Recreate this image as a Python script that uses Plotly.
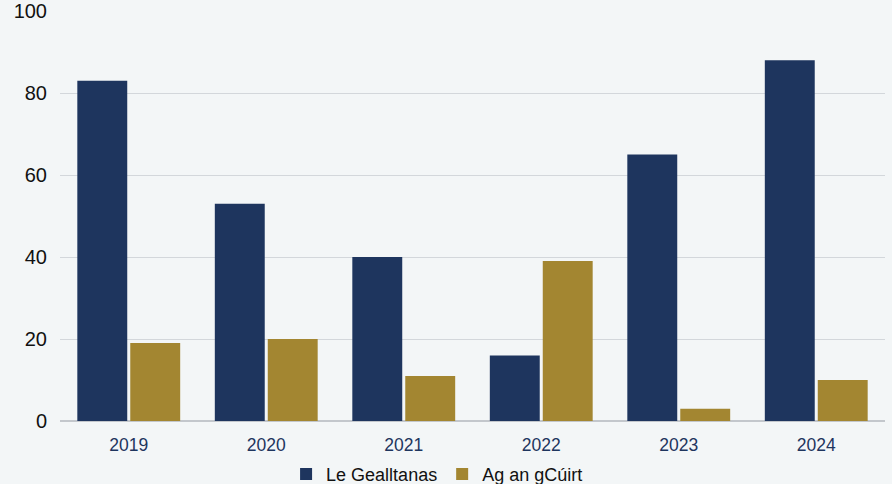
import plotly.graph_objects as go

years = ["2019", "2020", "2021", "2022", "2023", "2024"]
le_gealltanas = [83, 53, 40, 16, 65, 88]
ag_an_gcuirt = [19, 20, 11, 39, 3, 10]

fig = go.Figure()
fig.add_trace(go.Bar(x=years, y=le_gealltanas, name="Le Gealltanas",
                     marker=dict(color="#1e355e", line_width=0)))
fig.add_trace(go.Bar(x=years, y=ag_an_gcuirt, name="Ag an gCúirt",
                     marker=dict(color="#a38631", line_width=0)))

fig.update_layout(
    width=892, height=484,
    barmode="group", bargap=0.23, bargroupgap=0.057,
    paper_bgcolor="#f3f6f7", plot_bgcolor="#f3f6f7",
    font=dict(family="Helvetica Neue, Liberation Sans, Arial", color="#111111"),
    margin=dict(l=60, r=7, t=11, b=63, autoexpand=False),
    xaxis=dict(tickfont=dict(size=17.5, color="#1e355e"), showgrid=False, ticks="",
               ticklabelstandoff=11),
    yaxis=dict(range=[0, 100], dtick=20, tickfont=dict(size=20, color="#111111"),
               gridcolor="#d3d7db", zeroline=True, zerolinecolor="#c3c7cc", zerolinewidth=1.5,
               ticklabelstandoff=12),
    legend=dict(orientation="h", xref="container", x=0.49, xanchor="center",
                y=-0.085, yanchor="top", font=dict(size=18), itemwidth=30),
    showlegend=True,
)

fig.write_html("out.html", post_script="document.body.style.margin='0';",
               config={"displayModeBar": False})
